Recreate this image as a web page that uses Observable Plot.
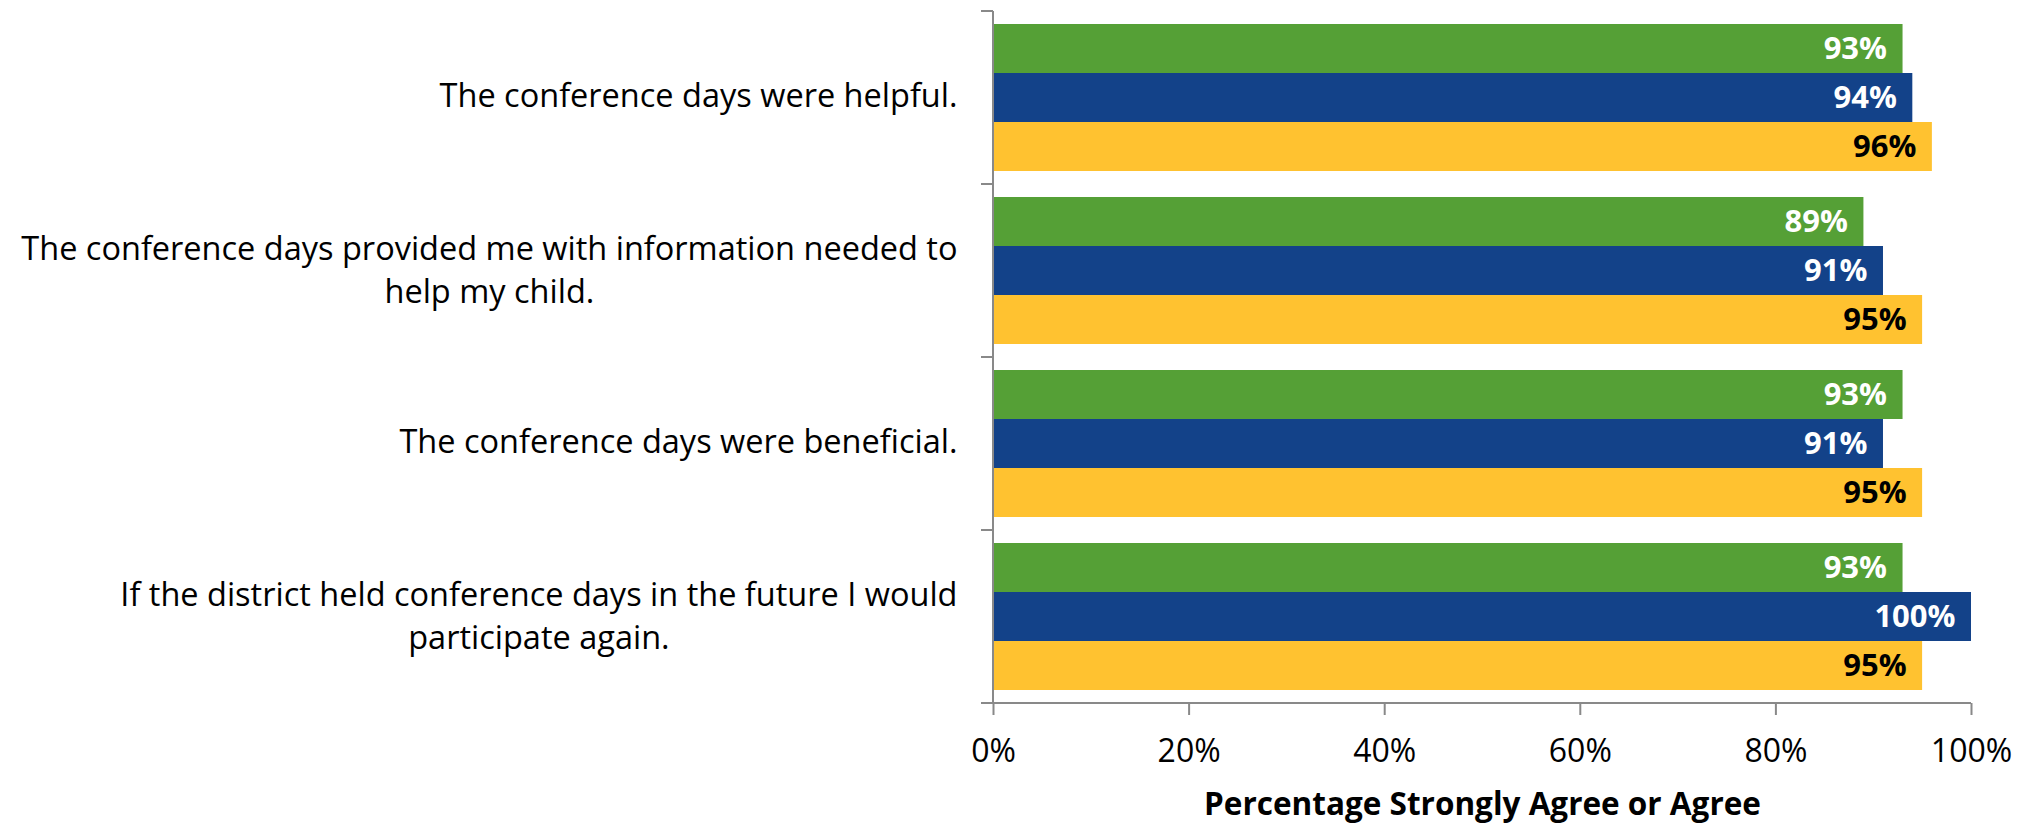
<!DOCTYPE html>
<html><head><meta charset="utf-8">
<script src="https://cdn.jsdelivr.net/npm/d3@7"></script>
<script src="https://cdn.jsdelivr.net/npm/@observablehq/plot@0.6"></script>
<style>html,body{margin:0;padding:0;background:#fff;} #chart{width:2030px;height:825px;}</style>
</head><body><div id="chart"></div>
<script>
const categories = [
  "The conference days were helpful.",
  "The conference days provided me with information needed to\nhelp my child.",
  "The conference days were beneficial.",
  "If the district held conference days in the future I would\nparticipate again."
];
const seriesNames = ["Group A", "Group B", "Group C"];
const seriesColors = ["#55A036", "#134289", "#FFC230"];
const labelColors = ["#ffffff", "#ffffff", "#000000"];
const valuesA = [93, 89, 93, 93];
const valuesB = [94, 91, 91, 100];
const valuesC = [96, 95, 95, 95];
const xTicks = [0, 20, 40, 60, 80, 100];
const xTitle = "Percentage Strongly Agree or Agree";

const seriesValues = [valuesA, valuesB, valuesC];
const data = categories.flatMap((c, ci) => seriesNames.map((s, si) => ({
  category: c, series: s, value: seriesValues[si][ci], labelColor: labelColors[si]
})));
const lastCategory = categories[categories.length - 1];

const FONT = "'Open Sans', Lato, sans-serif";
const FS = 32;
const AXIS = "#898989";

const axisFrame = Plot.rect(categories, {
  fy: d => d,
  render: (index, scales, values, dims) => {
    const g = d3.create("svg:g").attr("stroke", AXIS).attr("stroke-width", 2).attr("fill", "none");
    const top = dims.marginTop, bottom = dims.height - dims.marginBottom;
    const left = dims.marginLeft, right = dims.width - dims.marginRight;
    g.append("line").attr("x1", left).attr("x2", left).attr("y1", top).attr("y2", bottom);
    g.append("line").attr("x1", left - 12).attr("x2", left).attr("y1", top).attr("y2", top);
    g.append("line").attr("x1", left - 12).attr("x2", left).attr("y1", bottom).attr("y2", bottom);
    if (index.length && categories[index[0]] === lastCategory) {
      g.append("line").attr("x1", left - 12).attr("x2", right).attr("y1", bottom).attr("y2", bottom);
    }
    return g.node();
  }
});

const labelOptions = {
  fy: d => d, text: d => d, frameAnchor: "left", textAnchor: "end",
  dx: -36, lineHeight: 1.3, fontSize: FS + 0.5, fill: "black"
};

const chart = Plot.plot({
  width: 2030,
  height: 825,
  marginLeft: 993,
  marginRight: 59,
  marginTop: 10,
  marginBottom: 121,
  style: {fontFamily: FONT, fontSize: FS + "px", background: "#fff", color: "black"},
  x: {domain: [0, 100]},
  y: {domain: seriesNames, paddingInner: 0, paddingOuter: 0.245, axis: null},
  fy: {domain: categories, padding: 0, axis: null},
  color: {domain: seriesNames, range: seriesColors},
  marks: [
    Plot.barX(data, {fy: "category", y: "series", x: "value", fill: "series"}),
    Plot.text(data.filter(d => d.labelColor === "#ffffff"), {
      fy: "category", y: "series", x: "value", text: d => d.value + "%",
      textAnchor: "end", dx: -16, fill: "#ffffff", fontWeight: "bold", fontSize: FS - 1
    }),
    Plot.text(data.filter(d => d.labelColor === "#000000"), {
      fy: "category", y: "series", x: "value", text: d => d.value + "%",
      textAnchor: "end", dx: -16, fill: "#000000", fontWeight: "bold", fontSize: FS - 1
    }),
    axisFrame,
    Plot.axisX(xTicks, {
      tickSize: 12, tickPadding: 24, tickFormat: d => d + "%",
      color: "black", stroke: AXIS, strokeWidth: 2, fontSize: FS, label: null
    }),
    Plot.text(categories.filter(c => !c.includes("\n")), {...labelOptions, dy: -5}),
    Plot.text(categories.filter(c => c.includes("\n")), {...labelOptions, dy: -3}),
    Plot.text([{t: xTitle, c: lastCategory}], {
      fy: "c", text: "t", frameAnchor: "bottom", dy: 89, lineAnchor: "top",
      fontWeight: "bold", fontSize: FS - 0.5, fill: "black"
    })
  ]
});

document.getElementById("chart").appendChild(chart);

function centerWrapped() {
  chart.querySelectorAll("text").forEach(t => {
    const spans = t.querySelectorAll("tspan");
    if (spans.length < 2) return;
    let w = 0;
    spans.forEach(s => { w = Math.max(w, s.getComputedTextLength()); });
    t.setAttribute("text-anchor", "middle");
    spans.forEach(s => s.setAttribute("x", -w / 2));
  });
}
centerWrapped();
if (document.fonts && document.fonts.ready) document.fonts.ready.then(centerWrapped);
</script>
</body></html>
